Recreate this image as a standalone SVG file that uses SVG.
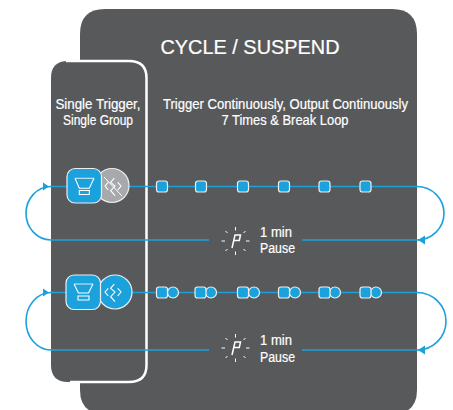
<svg xmlns="http://www.w3.org/2000/svg" width="453" height="410" viewBox="0 0 453 410">
<style>
text{font-family:"Liberation Sans",Arial,sans-serif;fill:#fff;text-anchor:middle;stroke:#fff;stroke-width:.2}
.panel{fill:#58595b}
.flow{fill:none;stroke:#1ba1dc;stroke-width:1.6}
.head{fill:#1ba1dc}
.sq{fill:#1ba1dc;stroke:#eee;stroke-width:1.2}
.ic{fill:none;stroke:#fff;stroke-width:1.1}
.ict{fill:none;stroke:#cfe6f2;stroke-width:1.1}
.sun{fill:none;stroke:#fff;stroke-width:1}
.pee{fill:none;stroke:#fff;stroke-width:1.5}
.lb{font-size:14px}
.sm{font-size:14px}
</style>
<defs>
<g id="sunIcon">
<path class="sun" d="M0-14V-10.500M0 10.500V14M-14 0H-10.500M10.500 0H14M-10-10L-8-8M8-8L10-10M-10 10L-8 8M8 8L10 10"/>
<path class="pee" d="M-3.500 7L-0.500-6H5L3.800-0.500H-1.800"/>
</g>
<path id="sig" class="ic" d="M-4.700-3.700L-8 0L-4.700 4M1.300-8L-2.300-3.700L2 0L-2.300 4.700L2 9.700M4.700-3.700L8 0L4.700 4"/>
</defs>
<g id="panel-cycle"><path class="panel" d="M105 9H392Q417 9 417 34V390Q417 414 392 414H105Q80 414 80 390V34Q80 9 105 9Z"/></g>
<g id="panel-single">
<path class="panel" d="M68 61H129Q146.500 61 146.500 78V365Q146.500 382 129 382H68Q51 382 51 365V78Q51 61 68 61Z"/>
<path fill="none" stroke="#fff" stroke-width="2.500" d="M66 61H129Q146.500 61 146.500 78V365Q146.500 382 129 382H70"/>
</g>
<g id="title">
<text x="250" y="54" font-size="19.500" textLength="179" lengthAdjust="spacingAndGlyphs">CYCLE / SUSPEND</text>
<text class="lb" x="98" y="109" textLength="85" lengthAdjust="spacingAndGlyphs">Single Trigger,</text>
<text class="lb" x="98" y="125" textLength="70" lengthAdjust="spacingAndGlyphs">Single Group</text>
<text class="lb" x="285.500" y="108.500" textLength="245" lengthAdjust="spacingAndGlyphs">Trigger Continuously, Output Continuously</text>
<text class="lb" x="285" y="125" textLength="127" lengthAdjust="spacingAndGlyphs">7 Times &amp; Break Loop</text>
</g>
<g id="connectors">
<path class="flow" d="M51 186.500H417A27 26.750 0 0 1 417 240H302"/>
<path class="flow" d="M51 186.500A25 26.750 0 0 0 51 240H209"/>
<path class="flow" d="M51 292.500H417A29 28.750 0 0 1 417 350H302"/>
<path class="flow" d="M51 292.500A25 28.750 0 0 0 51 350H209"/>
<path class="head" d="M43 182.500L49 186.500L43 190.500Z"/>
<path class="head" d="M43 288.500L49 292.500L43 296.500Z"/>
<path class="head" d="M418 240L425 235.500V244.500Z"/>
<path class="head" d="M418 350L425 345.500V354.500Z"/>
</g>
<g id="trigger-a">
<circle cx="112" cy="185.500" r="17" fill="#a7a9ac" stroke="#eee" stroke-width="1.200"/>
<use href="#sig" x="113" y="186"/>
<path stroke="#fff" stroke-width="1" d="M104 177L122 196"/>
<rect class="sq" x="67" y="168.500" width="34.500" height="34.500" rx="8"/>
<path class="ict" d="M75 178.300H94"/><path class="ic" d="M75 178.300L79.300 188.300H89.300L94 178.300M79.300 190.500H89.300V194.500H79.300Z"/>
</g>
<g id="trigger-b">
<circle cx="115" cy="292" r="17" class="sq"/>
<use href="#sig" x="113" y="292"/>
<rect class="sq" x="66" y="275" width="34.500" height="34.500" rx="8"/>
<path class="ict" d="M74 284H93"/><path class="ic" d="M74 284L78.500 293H88.500L93 284M78 296H89V300H78Z"/>
</g>
<g id="pulses-a">
<rect class="sq" x="156.500" y="181" width="11" height="11" rx="2.500"/>
<rect class="sq" x="195.500" y="181" width="11" height="11" rx="2.500"/>
<rect class="sq" x="237.500" y="181" width="11" height="11" rx="2.500"/>
<rect class="sq" x="278.500" y="181" width="11" height="11" rx="2.500"/>
<rect class="sq" x="319" y="181" width="11" height="11" rx="2.500"/>
<rect class="sq" x="360" y="181" width="11" height="11" rx="2.500"/>
</g>
<g id="pulses-b">
<circle class="sq" cx="173" cy="292.500" r="5.500"/><rect class="sq" x="156.500" y="287" width="11" height="11" rx="2.500"/>
<circle class="sq" cx="211" cy="292.500" r="5.500"/><rect class="sq" x="195" y="287" width="11" height="11" rx="2.500"/>
<circle class="sq" cx="254" cy="292.500" r="5.500"/><rect class="sq" x="237.500" y="287" width="11" height="11" rx="2.500"/>
<circle class="sq" cx="295" cy="292.500" r="5.500"/><rect class="sq" x="278.500" y="287" width="11" height="11" rx="2.500"/>
<circle class="sq" cx="335" cy="292.500" r="5.500"/><rect class="sq" x="319" y="287" width="11" height="11" rx="2.500"/>
<circle class="sq" cx="376" cy="292.500" r="5.500"/><rect class="sq" x="360" y="287" width="11" height="11" rx="2.500"/>
</g>
<g id="pause-a">
<use href="#sunIcon" x="235.500" y="241"/>
<text class="sm" x="276" y="237" textLength="32" lengthAdjust="spacingAndGlyphs">1 min</text>
<text class="sm" x="277.500" y="253" textLength="35" lengthAdjust="spacingAndGlyphs">Pause</text>
</g>
<g id="pause-b">
<use href="#sunIcon" x="235.500" y="348"/>
<text class="sm" x="276" y="345" textLength="32" lengthAdjust="spacingAndGlyphs">1 min</text>
<text class="sm" x="277.500" y="362" textLength="35" lengthAdjust="spacingAndGlyphs">Pause</text>
</g>
</svg>
